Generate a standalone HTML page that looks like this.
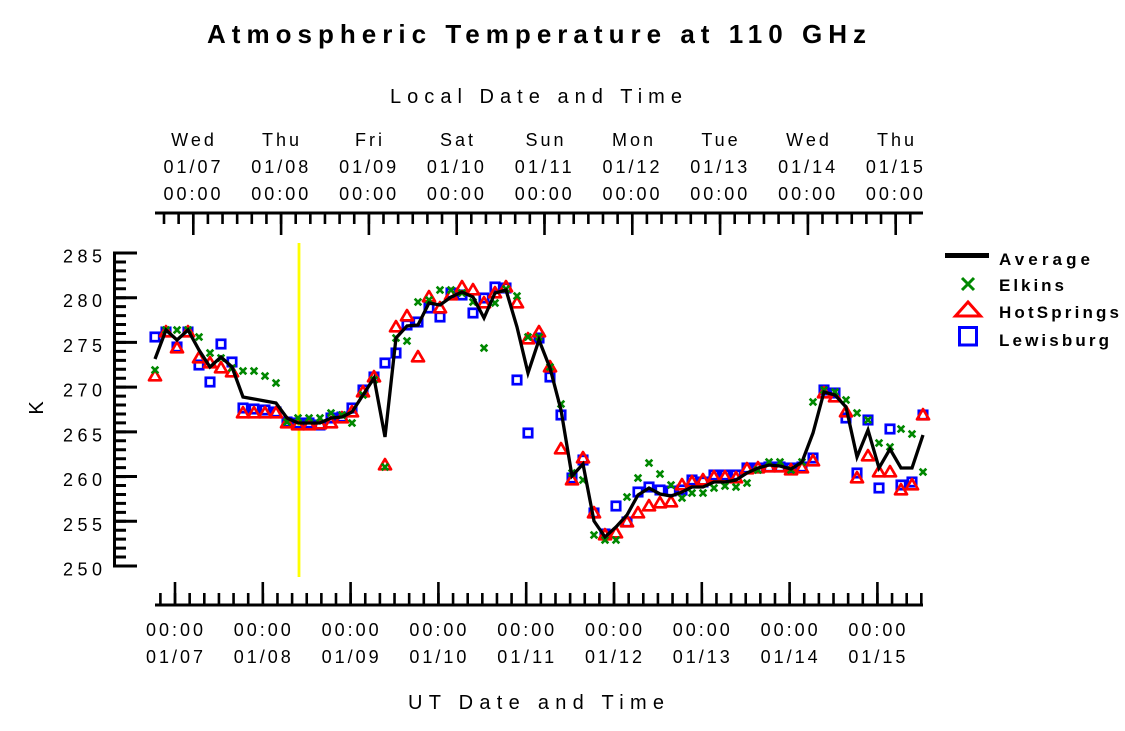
<!DOCTYPE html>
<html>
<head>
<meta charset="utf-8">
<style>
  html,body{margin:0;padding:0;background:#fff;}
  svg{display:block;}
  text{font-family:"Liberation Sans", Arial, sans-serif; fill:#000;}
</style>
</head>
<body>
<svg width="1125" height="731" viewBox="0 0 1125 731" xmlns="http://www.w3.org/2000/svg">
  <defs>
    <marker id="mSq" markerWidth="20" markerHeight="20" refX="10" refY="10" markerUnits="userSpaceOnUse" overflow="visible">
      <rect x="5.8" y="5.8" width="8.4" height="8.4" fill="none" stroke="#0000ff" stroke-width="2.7"/>
    </marker>
    <marker id="mTri" markerWidth="20" markerHeight="20" refX="10" refY="10" markerUnits="userSpaceOnUse" overflow="visible">
      <polygon points="10,4 16,14.3 4,14.3" fill="none" stroke="#ff0000" stroke-width="2.7" stroke-linejoin="round"/>
    </marker>
    <marker id="mX" markerWidth="20" markerHeight="20" refX="10" refY="10" markerUnits="userSpaceOnUse" overflow="visible">
      <path d="M6.7,6.7 L13.3,13.3 M13.3,6.7 L6.7,13.3" stroke="#008800" stroke-width="2.7" fill="none"/>
    </marker>
  </defs>

  <rect width="1125" height="731" fill="#fff"/>

  <!-- Title -->
  <text x="207" y="43" font-size="26" font-weight="bold" textLength="659" lengthAdjust="spacing">Atmospheric Temperature at 110 GHz</text>
  <text x="390" y="103" font-size="20" textLength="292" lengthAdjust="spacing">Local Date and Time</text>

  <!-- Top axis labels -->
  <g font-size="18" text-anchor="middle" letter-spacing="3">
    <text x="194" y="146">Wed</text>
    <text x="282" y="146">Thu</text>
    <text x="370" y="146">Fri</text>
    <text x="458" y="146">Sat</text>
    <text x="546" y="146">Sun</text>
    <text x="634" y="146">Mon</text>
    <text x="721" y="146">Tue</text>
    <text x="809" y="146">Wed</text>
    <text x="897" y="146">Thu</text>
  </g>
  <g font-size="18" lengthAdjust="spacing">
    <text x="163.5" y="173" textLength="57">01/07</text>
    <text x="251.3" y="173" textLength="57">01/08</text>
    <text x="339.1" y="173" textLength="57">01/09</text>
    <text x="426.9" y="173" textLength="57">01/10</text>
    <text x="514.7" y="173" textLength="57">01/11</text>
    <text x="602.5" y="173" textLength="57">01/12</text>
    <text x="690.3" y="173" textLength="57">01/13</text>
    <text x="778.1" y="173" textLength="57">01/14</text>
    <text x="865.9" y="173" textLength="57">01/15</text>
    <text x="163.5" y="200" textLength="57">00:00</text>
    <text x="251.3" y="200" textLength="57">00:00</text>
    <text x="339.1" y="200" textLength="57">00:00</text>
    <text x="426.9" y="200" textLength="57">00:00</text>
    <text x="514.7" y="200" textLength="57">00:00</text>
    <text x="602.5" y="200" textLength="57">00:00</text>
    <text x="690.3" y="200" textLength="57">00:00</text>
    <text x="778.1" y="200" textLength="57">00:00</text>
    <text x="865.9" y="200" textLength="57">00:00</text>
  </g>

  <!-- Top axis -->
  <line x1="155" y1="213" x2="923" y2="213" stroke="#000" stroke-width="3"/>
  <line x1="162.7" y1="218.5" x2="923" y2="218.5" stroke="#000" stroke-width="11" stroke-dasharray="2.6 12.033"/>
  <line x1="192" y1="224" x2="923" y2="224" stroke="#000" stroke-width="22" stroke-dasharray="2.6 85.2"/>

  <!-- Bottom axis -->
  <line x1="155" y1="605" x2="923" y2="605" stroke="#000" stroke-width="3"/>
  <line x1="159.1" y1="599" x2="923" y2="599" stroke="#000" stroke-width="12" stroke-dasharray="2.6 12.033"/>
  <line x1="173.7" y1="593.5" x2="923" y2="593.5" stroke="#000" stroke-width="23" stroke-dasharray="2.6 85.2"/>

  <!-- Bottom labels -->
  <g font-size="18" lengthAdjust="spacing">
    <text x="146" y="636" textLength="57">00:00</text>
    <text x="233.8" y="636" textLength="57">00:00</text>
    <text x="321.6" y="636" textLength="57">00:00</text>
    <text x="409.4" y="636" textLength="57">00:00</text>
    <text x="497.2" y="636" textLength="57">00:00</text>
    <text x="585" y="636" textLength="57">00:00</text>
    <text x="672.8" y="636" textLength="57">00:00</text>
    <text x="760.6" y="636" textLength="57">00:00</text>
    <text x="848.4" y="636" textLength="57">00:00</text>
    <text x="146" y="663" textLength="57">01/07</text>
    <text x="233.8" y="663" textLength="57">01/08</text>
    <text x="321.6" y="663" textLength="57">01/09</text>
    <text x="409.4" y="663" textLength="57">01/10</text>
    <text x="497.2" y="663" textLength="57">01/11</text>
    <text x="585" y="663" textLength="57">01/12</text>
    <text x="672.8" y="663" textLength="57">01/13</text>
    <text x="760.6" y="663" textLength="57">01/14</text>
    <text x="848.4" y="663" textLength="57">01/15</text>
  </g>
  <text x="408" y="709" font-size="20" textLength="256" lengthAdjust="spacing">UT Date and Time</text>

  <!-- Left axis -->
  <line x1="114.5" y1="251.5" x2="114.5" y2="567.5" stroke="#000" stroke-width="3"/>
  <line x1="120" y1="251.5" x2="120" y2="568" stroke="#000" stroke-width="12" stroke-dasharray="3 5.943"/>
  <line x1="125.5" y1="251.5" x2="125.5" y2="568" stroke="#000" stroke-width="23" stroke-dasharray="3 41.71"/>
  <g font-size="18" lengthAdjust="spacing">
    <text x="63" y="262.5" textLength="39">285</text>
    <text x="63" y="307" textLength="39">280</text>
    <text x="63" y="352" textLength="39">275</text>
    <text x="63" y="396.5" textLength="39">270</text>
    <text x="63" y="441.5" textLength="39">265</text>
    <text x="63" y="486" textLength="39">260</text>
    <text x="63" y="531" textLength="39">255</text>
    <text x="63" y="575.5" textLength="39">250</text>
  </g>
  <text transform="translate(43,408) rotate(-90)" font-size="20" text-anchor="middle">K</text>

  <!-- Yellow marker line -->
  <line x1="299" y1="243" x2="299" y2="577" stroke="#ffff00" stroke-width="2.8"/>

  <!-- Lewisburg squares -->
  <polyline fill="none" stroke="none" marker-start="url(#mSq)" marker-mid="url(#mSq)" marker-end="url(#mSq)"
    points="155,337 166,332 177,347 188,332 199,365 210,382 221,344 232,362 243,408 254,409 265,410 276,412 287,422 298,423 309,423 320,425 331,418 342,417 352,408 363,390 374,377 385,363 396,353 407,325 418,322 429,308 440,317 451,293 462,295 473,313 484,298 495,287 506,288 517,380 528,433 539,338 550,377 561,415 572,478 583,460 594,513 605,534 616,506 627,522 638,492 649,487 660,490 671,491 682,490 692,480 703,482 714,475 725,475 736,475 747,468 758,468 769,467 780,467 791,468 802,467 813,458 824,390 835,393 846,418 857,473 868,420 879,488 890,429 901,485 912,482 923,415"/>

  <!-- HotSprings triangles -->
  <polyline fill="none" stroke="none" marker-start="url(#mTri)" marker-mid="url(#mTri)" marker-end="url(#mTri)"
    points="155,376 166,332 177,348 188,332 199,358 210,363 221,368 232,372 243,413 254,413 265,413 276,413 287,423 298,425 309,425 320,424 331,423 342,418 352,412 363,392 374,377 385,465 396,327 407,316 418,357 429,297 440,308 451,295 462,287 473,290 484,303 495,293 506,287 517,303 528,339 539,332 550,367 561,449 572,480 583,458 594,513 605,535 616,533 627,522 638,513 649,506 660,503 671,502 682,485 692,482 703,480 714,477 725,477 736,478 747,469 758,468 769,467 780,467 791,470 802,468 813,461 824,393 835,397 846,412 857,478 868,456 879,472 890,472 901,490 912,485 923,415"/>

  <!-- Elkins crosses -->
  <polyline fill="none" stroke="none" marker-start="url(#mX)" marker-mid="url(#mX)" marker-end="url(#mX)"
    points="155,370 166,330 177,330 188,330 199,337 210,353 221,358 232,368 243,371 254,371 265,376 276,383 287,422 298,418 309,418 320,418 331,413 342,415 352,423 363,395 374,380 385,467 396,338 407,341 418,302 429,300 440,290 451,290 462,293 473,302 484,348 495,303 506,289 517,296 528,337 539,337 550,367 561,404 572,473 583,480 594,535 605,540 616,540 627,497 638,478 649,463 660,474 671,485 682,498 692,493 703,493 714,488 725,486 736,487 747,483 758,470 769,462 780,462 791,470 802,462 813,402 824,390 835,392 846,400 857,413 868,420 879,443 890,447 901,429 912,434 923,472"/>

  <!-- Average line -->
  <polyline fill="none" stroke="#000" stroke-width="3.3" stroke-linejoin="miter" stroke-miterlimit="6"
    points="155,359 166,330 177,340 188,330 199,350 210,367 221,357 232,367 243,397 254,399 265,401 276,403 287,418 298,423 309,423 320,423 331,418 342,417 352,412 363,395 374,378 385,437 396,338 407,326 418,325 429,303 440,305 451,297 462,292 473,297 484,318 495,293 506,290 517,327 528,373 539,340 550,368 561,410 572,476 583,464 594,521 605,537 616,527 627,515 638,495 649,488 660,494 671,496 682,492 692,487 703,487 714,482 725,482 736,480 747,473 758,468 769,465 780,466 791,469 802,462 813,433 824,392 835,395 846,407 857,457 868,430 879,468 890,449 901,468 912,468 923,435"/>

  <!-- Legend -->
  <rect x="945" y="253" width="44" height="5" fill="#000"/>
  <text x="999" y="265" font-size="17" font-weight="bold" textLength="91" lengthAdjust="spacing">Average</text>
  <path d="M962,278 L974,290 M974,278 L962,290" stroke="#008800" stroke-width="3" fill="none"/>
  <text x="999" y="291" font-size="17" font-weight="bold" textLength="65" lengthAdjust="spacing">Elkins</text>
  <polygon points="968,302 980.5,316 955.5,316" fill="none" stroke="#ff0000" stroke-width="3"/>
  <text x="999" y="318" font-size="17" font-weight="bold" textLength="120" lengthAdjust="spacing">HotSprings</text>
  <rect x="959.5" y="327.5" width="17" height="17.5" fill="none" stroke="#0000ff" stroke-width="3"/>
  <text x="999" y="346" font-size="17" font-weight="bold" textLength="110" lengthAdjust="spacing">Lewisburg</text>
</svg>
</body>
</html>
